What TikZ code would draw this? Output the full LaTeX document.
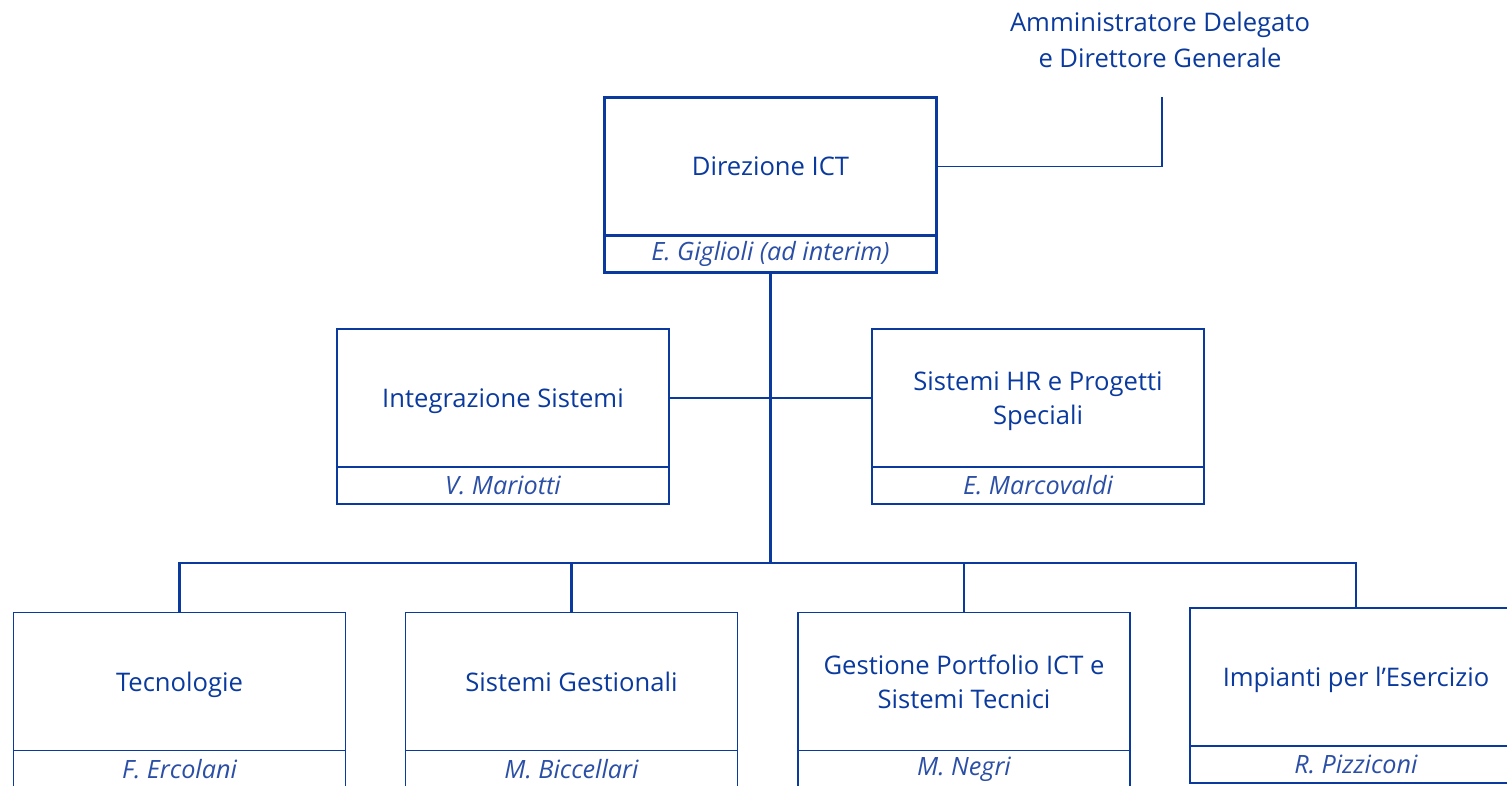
\documentclass[tikz,border=0pt]{standalone}
\usepackage{fontspec}
\setmainfont{Open Sans}
\definecolor{ibl}{HTML}{0A3A9E}
\definecolor{nbl}{HTML}{2B4FA6}
\begin{document}
\begin{tikzpicture}[x=1pt,y=-1pt,
  unit/.style={draw=ibl,line width=1.3pt,rectangle,inner sep=0pt,minimum width=332pt,minimum height=138pt,text=ibl,font=\fontsize{25.6}{34}\selectfont,align=center,text depth=0pt},
  namebox/.style={draw=ibl,line width=1.3pt,rectangle,inner sep=0pt,minimum width=332pt,minimum height=37pt,text=nbl,font=\fontsize{25.2}{28}\selectfont\itshape},
  topunit/.style={unit,line width=3pt},
  topname/.style={namebox,line width=3pt},
  link/.style={draw=ibl,line width=2.2pt},
  trunk/.style={draw=ibl,line width=3pt}]
\useasboundingbox (0,0) rectangle (1507,785);
% top
\node[topunit] (dir) at (770.5,166.5) {Direzione ICT};
\node[topname] (dirn) at (770.5,254) {E. Giglioli (ad interim)};
\node[text=ibl,font=\fontsize{25.6}{36}\selectfont,align=center] (ad) at (1160,40) {Amministratore Delegato\\e Direttore Generale};
\coordinate (adc) at (1162,97);
\draw[draw=ibl,line width=1.5pt] (dir.east) -| (adc);
% middle
\node[unit] (int) at (503,398) {Integrazione Sistemi};
\node[namebox] (intn) at (503,485.5) {V. Mariotti};
\node[unit] (hr) at (1038,398) {Sistemi HR e Progetti\\Speciali};
\node[namebox] (hrn) at (1038,485.5) {E. Marcovaldi};
% bottom
\node[unit] (tec) at (179.5,681.5) {Tecnologie};
\node[namebox] (tecn) at (179.5,769) {F. Ercolani};
\node[unit] (sg) at (571.5,681.5) {Sistemi Gestionali};
\node[namebox] (sgn) at (571.5,769) {M. Biccellari};
\node[unit] (gp) at (964,681.5) {Gestione Portfolio ICT e\\Sistemi Tecnici};
\node[namebox] (gpn) at (964,769) {M. Negri};
\node[unit] (imp) at (1356,677) {Impianti per l’Esercizio};
\node[namebox] (impn) at (1356,764.5) {R. Pizziconi};
% connectors
\coordinate (bus) at (770.5,563);
\draw[trunk] (dirn.south) -- (bus);
\draw[link] (int.east) -- (hr.west);
\draw[link,line width=2.6pt] (tec.north) |- (bus) -| (imp.north);
\draw[link] (sg.north) -- (sg.north |- bus);
\draw[link] (gp.north) -- (gp.north |- bus);
\end{tikzpicture}
\end{document}
